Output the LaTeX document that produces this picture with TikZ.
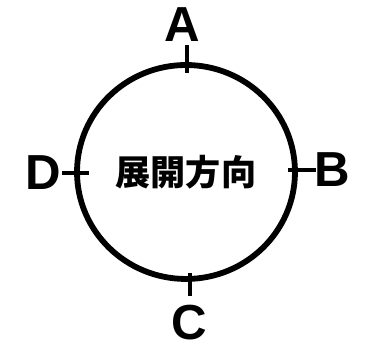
\documentclass[tikz,border=0pt]{standalone}
\usepackage{fontspec}
\setmainfont{Liberation Sans}
\newfontfamily\cjk{Noto Sans CJK JP}
\usetikzlibrary{shapes.geometric,positioning,calc}

\begin{document}
\begin{tikzpicture}[x=0.02cm, y=0.02cm,
  ring/.style={draw, ellipse, line width=3.3pt, minimum width=4.36cm,
               minimum height=4.28cm, inner sep=0pt},
  lbl/.style={font=\fontsize{28}{28}\selectfont\bfseries, inner sep=0pt},
  tickmark/.style={line width=2.2pt}
]
\useasboundingbox (0,0) rectangle (383,361);

% ── Circle with direction text ───────────────────────────────────────────────
\node[ring, font=\cjk\bfseries\fontsize{20}{20}\selectfont] (wheel) at (186,189)
  {\raisebox{-4pt}{展開方向}};

% ── Tick marks ───────────────────────────────────────────────────────────────
\coordinate (a1) at ($(wheel.north)+(1,17)$);
\coordinate (a2) at ($(wheel.north)+(1,-11)$);
\coordinate (b1) at ($(wheel.east)+(-10,2)$);
\coordinate (b2) at ($(wheel.east)+(18,2)$);
\coordinate (c1) at ($(wheel.south)+(4,9)$);
\coordinate (c2) at ($(wheel.south)+(4,-14)$);
\coordinate (d1) at ($(wheel.west)+(-12,-1)$);
\coordinate (d2) at ($(wheel.west)+(15,-1)$);
\draw[tickmark] (a1) -- (a2);
\draw[tickmark] (b1) -- (b2);
\draw[tickmark] (c1) -- (c2);
\draw[tickmark] (d1) -- (d2);

% ── Labels ───────────────────────────────────────────────────────────────────
\node[lbl] (labA) at ($(wheel.north)+(-4,38)$) {A};
\node[lbl] (labB) at ($(wheel.east)+(34,2)$)   {B};
\node[lbl] (labC) at ($(wheel.south)+(3,-41)$) {C};
\node[lbl] (labD) at ($(wheel.west)+(-31,-1)$) {D};
\end{tikzpicture}
\end{document}
